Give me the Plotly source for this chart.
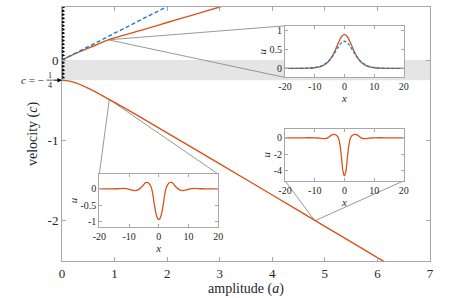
import numpy as np
import plotly.graph_objects as go

# ---------------- data ----------------
# upper (elevation) branch, orange
up_a = [0, 0.2, 0.4, 0.6, 0.88, 1.5, 2.0, 2.5, 3.0, 3.3]
up_c = [0, 0.064, 0.12, 0.175, 0.252, 0.37, 0.467, 0.563, 0.66, 0.72]
# KdV reference line (blue dashed)
kdv_a = [0, 2.1]
kdv_c = [0, 0.70]
# lower (depression) branch, orange
lo_a = [0, 0.2, 0.4, 0.6, 0.8, 1.0, 1.5, 2.0, 3.0, 4.0, 5.0, 6.0, 6.3]
lo_c = [-0.25, -0.271, -0.321, -0.384, -0.454, -0.526, -0.714, -0.905,
        -1.291, -1.679, -2.068, -2.457, -2.574]
# points on the branches whose profiles are shown in the insets
pt_a = [0.88, 4.81, 0.90]
pt_c = [0.252, -2.0, -0.49]

# inset 1 profiles (elevation)
x1 = [-20, -15, -12, -10, -8, -6, -5, -4, -3, -2, -1, 0,
      1, 2, 3, 4, 5, 6, 8, 10, 12, 15, 20]
u1_num = [0, 0.001, 0.006, 0.017, 0.049, 0.136, 0.22, 0.34, 0.503, 0.685, 0.839, 0.90,
          0.839, 0.685, 0.503, 0.34, 0.22, 0.136, 0.049, 0.017, 0.006, 0.001, 0]
u1_kdv = [0, 0.002, 0.009, 0.024, 0.061, 0.148, 0.223, 0.325, 0.449, 0.579, 0.681, 0.72,
          0.681, 0.579, 0.449, 0.325, 0.223, 0.148, 0.061, 0.024, 0.009, 0.002, 0]

# inset 2 profile (large depression)
x2 = [-20, -15, -12, -10, -9, -8, -7, -6, -5.5, -5, -4.5, -4, -3.5, -3, -2.5, -2, -1.5, -1, -0.5, 0,
      0.5, 1, 1.5, 2, 2.5, 3, 3.5, 4, 4.5, 5, 5.5, 6, 7, 8, 9, 10, 12, 15, 20]
u2 = [0, 0, 0.01, 0, -0.02, -0.06, -0.1, -0.06, 0.02, 0.15, 0.3, 0.4, 0.42, 0.38, 0.25, -0.05, -0.9, -2.4, -4.1, -4.7,
      -4.1, -2.4, -0.9, -0.05, 0.25, 0.38, 0.42, 0.4, 0.3, 0.15, 0.02, -0.06, -0.1, -0.06, -0.02, 0, 0.01, 0, 0]

# inset 3 profile (small depression)
x3 = [-20, -16, -14, -12, -11, -10, -9, -8, -7, -6, -5, -4.5, -4, -3.5, -3, -2.5, -2, -1.5, -1, -0.5, 0,
      0.5, 1, 1.5, 2, 2.5, 3, 3.5, 4, 4.5, 5, 6, 7, 8, 9, 10, 11, 12, 14, 16, 20]
u3 = [0, 0, 0.005, 0.015, 0.01, -0.01, -0.04, -0.05, -0.03, 0.04, 0.14, 0.19, 0.2, 0.19, 0.13, 0.04, -0.17, -0.48, -0.72, -0.88, -0.93,
      -0.88, -0.72, -0.48, -0.17, 0.04, 0.13, 0.19, 0.2, 0.19, 0.14, 0.04, -0.03, -0.05, -0.04, -0.01, 0.01, 0.015, 0.005, 0, 0]

x_ticks = [0, 1, 2, 3, 4, 5, 6, 7]
y_ticks = [-2, -1, 0]
y_ticktext = ["-2", "-1", "0"]

# ---------------- style ----------------
ORANGE = "#D95319"
BLUE = "#1a7bd0"
AX = "#a8a8a8"
TXT = "#262626"
FONT = "Liberation Serif"
W, H = 475, 298
XR = [0, 7]
YR = [-2.5, 0.66]

fig = go.Figure()

# continuous-spectrum wiggle at a = 0 (decoration)
wy = np.linspace(-0.25, YR[1], 800)
wx = 0.036 * np.sin(2 * np.pi * wy / 0.046)
fig.add_trace(go.Scatter(x=wx, y=wy, mode="lines", line=dict(color="black", width=1.3),
                         cliponaxis=False, hoverinfo="skip", showlegend=False))

fig.add_trace(go.Scatter(x=up_a, y=up_c, mode="lines", line=dict(color=ORANGE, width=1.4, shape="spline"),
                         showlegend=False))
fig.add_trace(go.Scatter(x=lo_a, y=lo_c, mode="lines", line=dict(color=ORANGE, width=1.4, shape="spline"),
                         showlegend=False))
fig.add_trace(go.Scatter(x=kdv_a, y=kdv_c, mode="lines", line=dict(color=BLUE, width=1.4, dash="4px,2.5px"),
                         showlegend=False))

# insets
fig.add_trace(go.Scatter(x=x1, y=u1_num, xaxis="x2", yaxis="y2", mode="lines",
                         line=dict(color=ORANGE, width=1.3, shape="spline"), showlegend=False))
fig.add_trace(go.Scatter(x=x1, y=u1_kdv, xaxis="x2", yaxis="y2", mode="lines",
                         line=dict(color=BLUE, width=1.3, dash="3px,2px", shape="spline"), showlegend=False))
fig.add_trace(go.Scatter(x=x2, y=u2, xaxis="x3", yaxis="y3", mode="lines",
                         line=dict(color=ORANGE, width=1.3, shape="spline"), showlegend=False))
fig.add_trace(go.Scatter(x=x3, y=u3, xaxis="x4", yaxis="y4", mode="lines",
                         line=dict(color=ORANGE, width=1.3, shape="spline"), showlegend=False))

# inset domains (paper fractions)
D1 = ([0.606, 0.929], [0.7226, 0.926])
D2 = ([0.606, 0.929], [0.316, 0.520])
D3 = ([0.1014, 0.4247], [0.135, 0.342])


def to_data(px, py):
    return XR[0] + px * (XR[1] - XR[0]), YR[0] + py * (YR[1] - YR[0])


shapes = [dict(type="rect", xref="x", yref="y", x0=0, x1=7, y0=-0.25, y1=0,
               fillcolor="#e5e5e5", line=dict(width=0), layer="below")]

corners = [
    [(D1[0][0], D1[1][1]), (D1[0][0], D1[1][0])],
    [(D2[0][0], D2[1][0]), (D2[0][1], D2[1][0])],
    [(D3[0][0], D3[1][1]), (D3[0][1], D3[1][1])],
]
for i, cs in enumerate(corners):
    for (px, py) in cs:
        dx, dy = to_data(px, py)
        shapes.append(dict(type="line", xref="x", yref="y", x0=pt_a[i], y0=pt_c[i], x1=dx, y1=dy,
                           line=dict(color="#8c8c8c", width=0.9), layer="below"))

# fraction bar for c = -1/4
shapes.append(dict(type="line", xref="paper", yref="paper",
                   x0=(46.5 - 62) / 368, x1=(52.5 - 62) / 368,
                   y0=(263 - 80) / 257, y1=(263 - 80) / 257,
                   line=dict(color=TXT, width=0.8)))

annotations = [
    dict(x=0, y=-0.25, xref="x", yref="y", ax=-10, ay=0, axref="pixel", ayref="pixel",
         showarrow=True, arrowhead=2, arrowsize=0.9, arrowwidth=1, arrowcolor="black", text=""),
    dict(x=0, y=-0.25, xref="x", yref="y", xshift=-16, showarrow=False, xanchor="right",
         text="<i>c</i> = −", font=dict(family=FONT, size=11, color=TXT)),
    dict(x=0, y=-0.25, xref="x", yref="y", xshift=-12.5, yshift=5, showarrow=False, xanchor="center",
         text="1", font=dict(family=FONT, size=8, color=TXT)),
    dict(x=0, y=-0.25, xref="x", yref="y", xshift=-12.5, yshift=-5.5, showarrow=False, xanchor="center",
         text="4", font=dict(family=FONT, size=8, color=TXT)),
]


def ax_common(size):
    return dict(showline=True, linecolor=AX, linewidth=1, mirror="allticks", ticks="inside",
                tickcolor=AX, showgrid=False, zeroline=False,
                tickfont=dict(family=FONT, size=size, color=TXT))


inset_x = dict(ax_common(10), range=[-20, 20], tickvals=[-20, -10, 0, 10, 20],
               ticktext=["-20", "-10", "0", "10", "20"], ticklen=3,
               title=dict(text="<i>x</i>", font=dict(family=FONT, size=11, color=TXT), standoff=0))

fig.update_layout(
    width=W, height=H,
    margin=dict(l=62, r=45, t=6, b=35),
    paper_bgcolor="white", plot_bgcolor="white",
    font=dict(family=FONT, color=TXT),
    xaxis=dict(ax_common(13), range=XR, tickvals=x_ticks, ticklen=4, domain=[0, 1],
               title=dict(text="amplitude (<i>a</i>)", font=dict(family=FONT, size=14, color=TXT), standoff=2)),
    yaxis=dict(ax_common(13), range=YR, tickvals=y_ticks, ticktext=y_ticktext, ticklen=4, domain=[0, 1],
               title=dict(text="velocity (<i>c</i>)", font=dict(family=FONT, size=14, color=TXT), standoff=6)),
    xaxis2=dict(inset_x, domain=D1[0], anchor="y2"),
    yaxis2=dict(ax_common(10), domain=D1[1], anchor="x2", range=[-0.24, 1.13], tickvals=[0, 0.5, 1],
                ticktext=["0", "0.5", "1"], ticklen=3,
                title=dict(text="<i>u</i>", font=dict(family=FONT, size=11, color=TXT), standoff=0)),
    xaxis3=dict(inset_x, domain=D2[0], anchor="y3"),
    yaxis3=dict(ax_common(10), domain=D2[1], anchor="x3", range=[-5.3, 1.1], tickvals=[-4, -2, 0],
                ticktext=["-4", "-2", "0"], ticklen=3,
                title=dict(text="<i>u</i>", font=dict(family=FONT, size=11, color=TXT), standoff=0)),
    xaxis4=dict(inset_x, domain=D3[0], anchor="y4"),
    yaxis4=dict(ax_common(10), domain=D3[1], anchor="x4", range=[-1.15, 0.45], tickvals=[-1, -0.5, 0],
                ticktext=["-1", "-0.5", "0"], ticklen=3,
                title=dict(text="<i>u</i>", font=dict(family=FONT, size=11, color=TXT), standoff=0)),
    shapes=shapes,
    annotations=annotations,
)

fig.write_html("out.html", config={"displayModeBar": False},
               post_script="document.body.style.margin='0px';")
